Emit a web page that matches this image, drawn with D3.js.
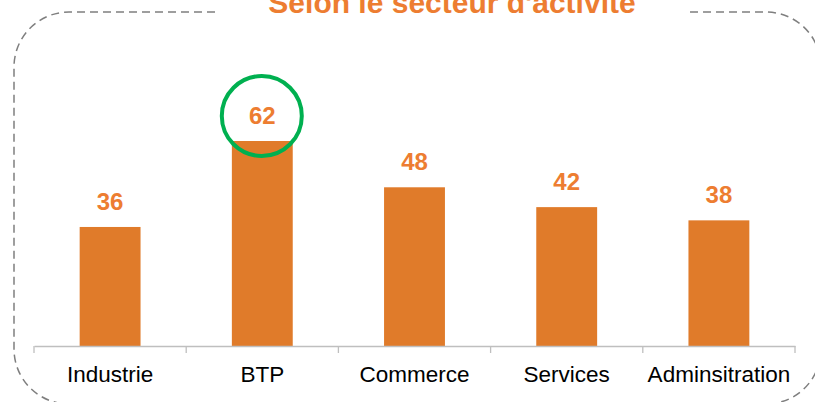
<!DOCTYPE html>
<html><head><meta charset="utf-8">
<script src="https://cdn.jsdelivr.net/npm/d3@7"></script>
<style>html,body{margin:0;padding:0;background:#fff;}svg{display:block;}</style>
</head><body>
<svg id="c" width="815" height="402"></svg>
<script>
const title = "Selon le secteur d'activité";
const categories = ["Industrie","BTP","Commerce","Services","Adminsitration"];
const values = [36,62,48,42,38];
const highlighted = ["BTP"];

const W = 815, H = 402;
const svg = d3.select("#c");
const orange = "#E07B2A";
const font = "Liberation Sans, Arial, sans-serif";

// frame
const fx0 = 14, fy0 = 12, fx1 = 821, fy1 = 404, r = 55;
const gapL = 215, gapR = 690;
const path = d3.path();
path.moveTo(gapL, fy0);
path.lineTo(fx0 + r, fy0);
path.arcTo(fx0, fy0, fx0, fy0 + r, r);
path.lineTo(fx0, fy1 - r);
path.arcTo(fx0, fy1, fx0 + r, fy1, r);
path.lineTo(fx1 - r, fy1);
path.arcTo(fx1, fy1, fx1, fy1 - r, r);
path.lineTo(fx1, fy0 + r);
path.arcTo(fx1, fy0, fx1 - r, fy0, r);
path.lineTo(gapR, fy0);
svg.append("path").attr("d", path.toString())
  .attr("fill","none").attr("stroke","#7f7f7f").attr("stroke-width",1.5)
  .attr("stroke-dasharray","8,5");

svg.append("text").attr("x", 452).attr("y", 13)
  .attr("text-anchor","middle").attr("font-family", font)
  .attr("font-weight","bold").attr("font-size",30).attr("fill", "#ED7D31").text(title);

const x = d3.scaleBand().domain(categories).range([34, 795]).paddingInner(0.6).paddingOuter(0.3);
const y = d3.scaleLinear().domain([0, 62]).range([346, 141]);

svg.selectAll("rect.bar").data(values).join("rect").attr("class","bar")
  .attr("x", (d,i) => x(categories[i]))
  .attr("y", d => y(d))
  .attr("width", x.bandwidth())
  .attr("height", d => y(0) - y(d))
  .attr("fill", orange);

const axis = d3.axisBottom(x).tickSize(0).tickPadding(0);
const gx = svg.append("g").attr("transform", `translate(0,${y(0)})`).call(axis);
gx.select(".domain").attr("stroke","#bfbfbf").attr("stroke-width",1.3);
gx.selectAll("text").attr("font-family", font).attr("font-size",22.5).attr("fill","#000")
  .attr("dy", null).attr("y", 36);
// category separator ticks
const step = x.step();
const edges = d3.range(categories.length + 1).map(i => x.range()[0] + i * step);
gx.selectAll("line.sep").data(edges).join("line").attr("class","sep")
  .attr("x1", d => d).attr("x2", d => d).attr("y1", 0).attr("y2", 7)
  .attr("stroke","#bfbfbf").attr("stroke-width",1.3);

svg.selectAll("text.val").data(values).join("text").attr("class","val")
  .attr("x", (d,i) => x(categories[i]) + x.bandwidth()/2)
  .attr("y", d => y(d) - 17)
  .attr("text-anchor","middle").attr("font-family", font)
  .attr("font-weight","bold").attr("font-size",24).attr("fill", "#ED7D31")
  .text(d => d);

categories.forEach((c,i) => {
  if (highlighted.includes(c)) {
    svg.append("circle").attr("cx", x(c) + x.bandwidth()/2 - 0.5).attr("cy", y(values[i]) - 25)
      .attr("r", 40).attr("fill","none").attr("stroke","#00B050").attr("stroke-width",4);
  }
});
</script>
</body></html>
